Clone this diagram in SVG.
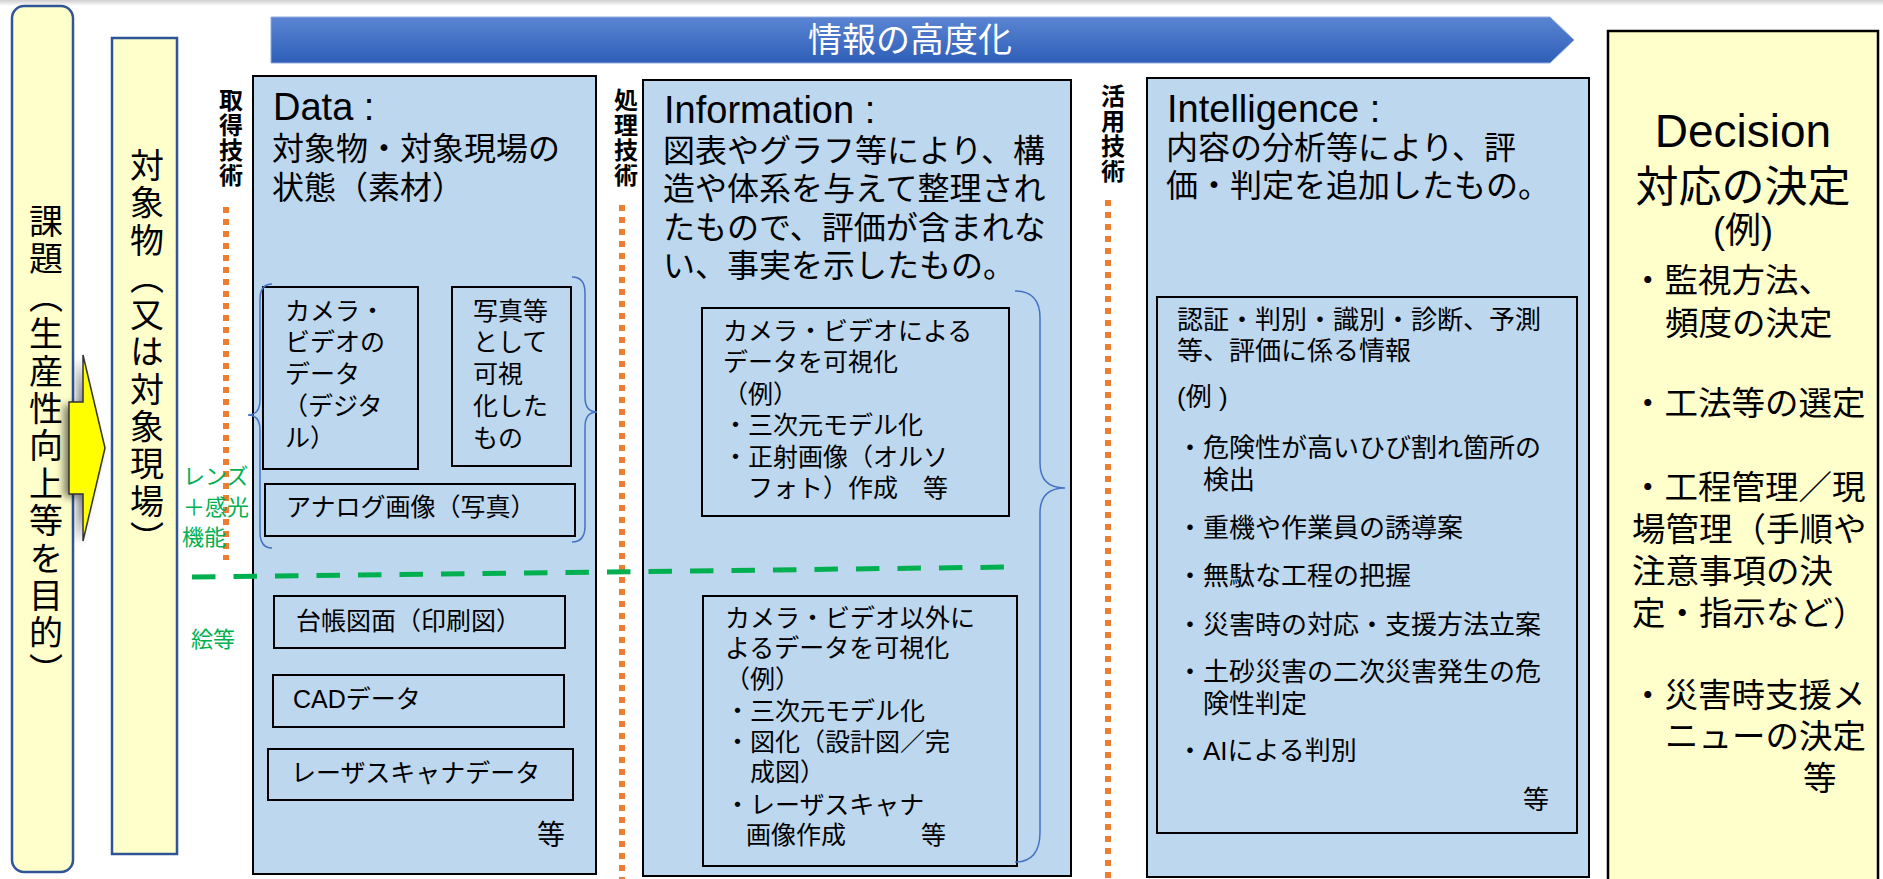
<svg xmlns="http://www.w3.org/2000/svg" width="1883" height="879" viewBox="0 0 1883 879">
<defs>
<linearGradient id="bannerGrad" x1="0" y1="0" x2="0" y2="1"><stop offset="0" stop-color="#5B85D3"/><stop offset="1" stop-color="#2E5EB8"/></linearGradient>
<linearGradient id="topShade" x1="0" y1="0" x2="0" y2="1"><stop offset="0" stop-color="#cfcfcf"/><stop offset="1" stop-color="#ffffff"/></linearGradient>
<filter id="soft" x="-50%" y="-50%" width="200%" height="200%"><feGaussianBlur stdDeviation="4"/></filter>
</defs>
<style>
.jp{font-family:"Noto Sans CJK JP","Liberation Sans",sans-serif;fill:#000}
.mix{font-family:"Liberation Sans","Noto Sans CJK JP",sans-serif;fill:#000}
.box{fill:#BDD7EE;stroke:#000;stroke-width:2}
.ybox{fill:#FFFFCC;stroke:#2F5597;stroke-width:2.5}
.brace{fill:none;stroke:#4472C4;stroke-width:1.5}
.orange{stroke:#ED7D31;stroke-width:6;stroke-dasharray:6 6;fill:none}
.green{stroke:#00B050;stroke-width:5;stroke-dasharray:23.5 18;fill:none}
.gtext{font-family:"Noto Sans CJK JP",sans-serif;fill:#00B050;font-size:22px}
.vt{writing-mode:vertical-rl}
.s25{font-size:25px}
.s26{font-size:26px}
.s32{font-size:32px}
.title{font-size:38px}
</style>
<rect x="0" y="0" width="1883" height="879" fill="#ffffff"/>
<rect x="0" y="0" width="1883" height="6" fill="url(#topShade)"/>

<g id="kadai">
<rect class="ybox" x="12" y="6" width="61" height="866" rx="12"/>
<text class="jp vt" x="46" y="204" font-size="34" letter-spacing="3.4">課題（生産性向上等を目的）</text>
</g>

<g id="taishobutsu">
<rect class="ybox" x="112" y="38" width="65" height="816"/>
<text class="jp vt" x="147" y="148" font-size="34" letter-spacing="3.3">対象物（又は対象現場）</text>
</g>

<g id="banner">
<path d="M271,17 L1550,17 L1574,40 L1550,63 L271,63 Z" fill="url(#bannerGrad)" stroke="#8FAADC" stroke-width="1"/>
<text class="jp" x="910" y="52" font-size="34" style="fill:#fff" text-anchor="middle">情報の高度化</text>
</g>

<g id="connectors">
<polygon points="69,402 83,402 83,355 105,448 83,541 83,494 69,494" fill="#000" opacity="0.55" filter="url(#soft)" transform="translate(-5,3)"/>
<polygon points="69,402 83,402 83,355 105,448 83,541 83,494 69,494" fill="#FFFF00" stroke="#333" stroke-width="1.5"/>
<line class="orange" x1="226" y1="207" x2="226" y2="560"/>
<line class="orange" x1="622" y1="205" x2="622" y2="879"/>
<line class="orange" x1="1108" y1="200" x2="1108" y2="879"/>
<polygon points="411,389 446,389 446,382 464,397 446,412 446,404 411,404" fill="#9DC3E6" stroke="#41719C" stroke-width="1.5"/>
</g>

<g id="labels-tech">
<text class="jp vt" x="231" y="88" font-size="24" font-weight="bold" letter-spacing="1">取得技術</text>
<text class="jp vt" x="626" y="88" font-size="24" font-weight="bold" letter-spacing="1">処理技術</text>
<text class="jp vt" x="1113" y="84" font-size="24" font-weight="bold" letter-spacing="1">活用技術</text>
<text class="gtext" x="183" y="484">レンズ</text>
<text class="gtext" x="183" y="515">＋感光</text>
<text class="gtext" x="182" y="545">機能</text>
<text class="gtext" x="191" y="647">絵等</text>
</g>

<g id="data">
<rect class="box" x="253" y="76" width="343" height="798"/>
<text class="mix title" x="273" y="120">Data :</text>
<text class="jp s32" x="272" y="160">対象物・対象現場の</text>
<text class="jp s32" x="272" y="199">状態（素材）</text>
<g id="camera">
<rect class="box" x="263" y="287" width="155" height="182"/>
<text class="jp s25" x="285" y="320">カメラ・</text>
<text class="jp s25" x="285" y="351">ビデオの</text>
<text class="jp s25" x="285" y="383">データ</text>
<text class="jp s25" x="283" y="415">（デジタ</text>
<text class="jp s25" x="285" y="447">ル）</text>
</g>
<g id="photo">
<rect class="box" x="452" y="287" width="119" height="179"/>
<text class="jp s25" x="473" y="320">写真等</text>
<text class="jp s25" x="473" y="351">として</text>
<text class="jp s25" x="473" y="383">可視</text>
<text class="jp s25" x="473" y="415">化した</text>
<text class="jp s25" x="473" y="447">もの</text>
</g>
<g id="analog">
<rect class="box" x="265" y="484" width="310" height="52"/>
<text class="jp s25" x="286" y="516">アナログ画像（写真）</text>
</g>
<path class="brace" d="M272,284 Q260,284 260,300 L260,400 Q260,415 248,415 Q260,415 260,430 L260,532 Q260,548 272,548"/>
<path class="brace" d="M572,277 Q585,277 585,293 L585,397 Q585,412 597,412 Q585,412 585,427 L585,526 Q585,542 572,542"/>
<g id="daicho">
<rect class="box" x="274" y="596" width="291" height="52"/>
<text class="jp s25" x="296" y="630">台帳図面（印刷図）</text>
</g>
<g id="cad">
<rect class="box" x="273" y="675" width="291" height="52"/>
<text class="mix s25" x="293" y="708">CADデータ</text>
</g>
<g id="laser">
<rect class="box" x="268" y="749" width="305" height="51"/>
<text class="jp s25" x="291" y="782">レーザスキャナデータ</text>
</g>
<text class="jp" x="537" y="845" font-size="28">等</text>
</g>

<g id="information">
<rect class="box" x="643" y="80" width="428" height="796"/>
<text class="mix title" x="664" y="123">Information :</text>
<text class="jp s32" x="663" y="162">図表やグラフ等により、構</text>
<text class="jp s32" x="663" y="200">造や体系を与えて整理され</text>
<text class="jp s32" x="663" y="239">たもので、評価が含まれな</text>
<text class="jp s32" x="663" y="277">い、事実を示したもの。</text>
<g id="info-camera">
<rect class="box" x="702" y="308" width="307" height="208"/>
<text class="jp s25" x="723" y="340">カメラ・ビデオによる</text>
<text class="jp s25" x="723" y="371">データを可視化</text>
<text class="jp s25" x="723" y="403">（例）</text>
<text class="jp s25" x="723" y="434">・三次元モデル化</text>
<text class="jp s25" x="723" y="466">・正射画像（オルソ</text>
<text class="jp s25" x="723" y="497">　フォト）作成　等</text>
</g>
<g id="info-other">
<rect class="box" x="703" y="596" width="314" height="270"/>
<text class="jp s25" x="725" y="627">カメラ・ビデオ以外に</text>
<text class="jp s25" x="725" y="657">よるデータを可視化</text>
<text class="jp s25" x="725" y="688">（例）</text>
<text class="jp s25" x="725" y="720">・三次元モデル化</text>
<text class="jp s25" x="725" y="751">・図化（設計図／完</text>
<text class="jp s25" x="725" y="781">　成図）</text>
<text class="jp s25" x="725" y="814">・レーザスキャナ</text>
<text class="jp s25" x="721" y="844">　画像作成　　　等</text>
</g>
<path class="brace" d="M1015,291 Q1040,291 1040,318 L1040,463 Q1040,488 1065,488 Q1040,488 1040,513 L1040,832 Q1040,862 1015,862"/>
</g>

<line class="green" x1="192" y1="577" x2="1012" y2="567"/>

<g id="intelligence">
<rect class="box" x="1147" y="78" width="442" height="799"/>
<text class="mix title" x="1167" y="122">Intelligence :</text>
<text class="jp s32" x="1166" y="159">内容の分析等により、評</text>
<text class="jp s32" x="1166" y="197">価・判定を追加したもの。</text>
<g id="int-detail">
<rect class="box" x="1157" y="297" width="420" height="536"/>
<text class="jp s26" x="1177" y="329">認証・判別・識別・診断、予測</text>
<text class="jp s26" x="1177" y="360">等、評価に係る情報</text>
<text class="mix s26" x="1177" y="406">(例 )</text>
<text class="jp s26" x="1177" y="457">・危険性が高いひび割れ箇所の</text>
<text class="jp s26" x="1203" y="489">検出</text>
<text class="jp s26" x="1177" y="537">・重機や作業員の誘導案</text>
<text class="jp s26" x="1177" y="585">・無駄な工程の把握</text>
<text class="jp s26" x="1177" y="634">・災害時の対応・支援方法立案</text>
<text class="jp s26" x="1177" y="681">・土砂災害の二次災害発生の危</text>
<text class="jp s26" x="1203" y="713">険性判定</text>
<text class="mix s26" x="1177" y="760">・AIによる判別</text>
<text class="jp s26" x="1523" y="809">等</text>
</g>
</g>

<g id="decision">
<rect x="1608" y="31" width="270" height="860" fill="#FFFFCC" stroke="#000" stroke-width="2.5"/>
<text class="mix" x="1743" y="147" font-size="46" text-anchor="middle">Decision</text>
<text class="jp" x="1743" y="202" font-size="43" text-anchor="middle">対応の決定</text>
<text class="mix" x="1743" y="243" font-size="36" text-anchor="middle">(例)</text>
<text class="jp" x="1631" y="292" font-size="33.5">・監視方法、</text>
<text class="jp" x="1665" y="335" font-size="33.5">頻度の決定</text>
<text class="jp" x="1631" y="415" font-size="33.5">・工法等の選定</text>
<text class="jp" x="1631" y="499" font-size="33.5">・工程管理／現</text>
<text class="jp" x="1632" y="541" font-size="33.5">場管理（手順や</text>
<text class="jp" x="1632" y="583" font-size="33.5">注意事項の決</text>
<text class="jp" x="1632" y="625" font-size="33.5">定・指示など）</text>
<text class="jp" x="1631" y="707" font-size="33.5">・災害時支援メ</text>
<text class="jp" x="1665" y="748" font-size="33.5">ニューの決定</text>
<text class="jp" x="1803" y="790" font-size="33.5">等</text>
</g>
</svg>
